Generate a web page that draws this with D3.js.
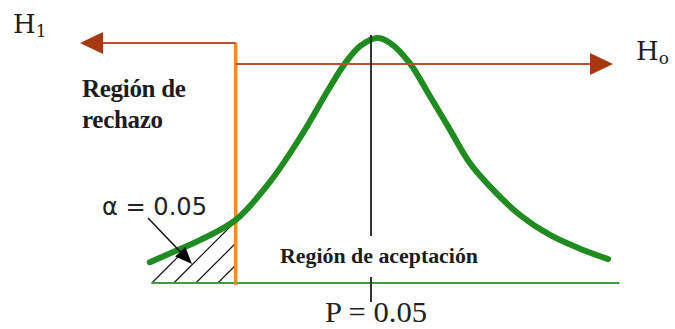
<!DOCTYPE html>
<html>
<head>
<meta charset="utf-8">
<script src="https://cdn.jsdelivr.net/npm/d3@7/dist/d3.min.js"></script>
<style>
body { margin: 0; background: #fff; }
</style>
</head>
<body>
<div id="chart"></div>
<script>
var w = 675;
var h = 329;

// bell curve (z position, height)
var curveZ = [-2.91, -2.58, -2.25, -1.78, -1.33, -0.93, -0.54, -0.34, -0.14, 0.08, 0.25, 0.51, 0.78, 1.04, 1.30, 1.57, 1.96, 2.36, 2.75, 3.12];
var curveD = [0.034, 0.052, 0.070, 0.103, 0.165, 0.238, 0.320, 0.359, 0.387, 0.400, 0.392, 0.359, 0.304, 0.250, 0.196, 0.157, 0.111, 0.078, 0.056, 0.039];
var critZ = -1.78;   // edge of the rejection region
var meanZ = 0;
var baseRange = [-2.89, 3.27];   // green base line

var labels = {
    h1: ["H", "1"],
    h0: ["H", "o"],
    reject: ["Región de", "rechazo"],
    accept: "Región de aceptación",
    alpha: "α = 0.05",
    p: "P = 0.05"
};

var xScale = d3.scaleLinear().domain([-3, 3]).range([143, 599]);
var yScale = d3.scaleLinear().domain([0, 0.4]).range([283, 38]);

var pts = curveZ.map(function(z, i) { return [z, curveD[i]]; });

var svg = d3.select("#chart")
    .append("svg")
    .attr("width", w)
    .attr("height", h);

var xc = xScale(critZ);
var xm = xScale(meanZ);
var y0 = yScale(0);

// hatched tail under the curve
var tail = pts.filter(function(d) { return d[0] <= critZ + 0.001; });
var area = d3.area()
    .x(function(d) { return xScale(d[0]); })
    .y0(y0)
    .y1(function(d) { return yScale(d[1]); })
    .curve(d3.curveCatmullRom);

svg.append("clipPath")
    .attr("id", "tailclip")
    .append("path")
    .attr("d", area(tail));

var hatch = svg.append("g").attr("clip-path", "url(#tailclip)");
d3.range(xScale(curveZ[0]) + 2, xc + 30, 22).forEach(function(bx) {
    hatch.append("line")
        .attr("x1", bx).attr("y1", y0)
        .attr("x2", bx + 70).attr("y2", y0 - 70)
        .attr("stroke", "#111")
        .attr("stroke-width", 1.2);
});

// base line
svg.append("line")
    .attr("x1", xScale(baseRange[0])).attr("x2", xScale(baseRange[1]))
    .attr("y1", y0).attr("y2", y0)
    .attr("stroke", "#3f9e3f")
    .attr("stroke-width", 2);

// orange critical line
svg.append("line")
    .attr("x1", xc).attr("x2", xc)
    .attr("y1", 43).attr("y2", y0 + 2)
    .attr("stroke", "#f58a2a")
    .attr("stroke-width", 3.5);

// the curve
var line = d3.line()
    .x(function(d) { return xScale(d[0]); })
    .y(function(d) { return yScale(d[1]); })
    .curve(d3.curveCatmullRom);

svg.append("path")
    .attr("d", line(pts))
    .attr("fill", "none")
    .attr("stroke", "#1f8c1f")
    .attr("stroke-width", 6)
    .attr("stroke-linecap", "round")
    .attr("stroke-linejoin", "round");

// H1 / Ho arrows
var brown = "#b9542e";
var headCol = "#a7380f";
svg.append("line")
    .attr("x1", xc).attr("x2", 100)
    .attr("y1", 43).attr("y2", 43)
    .attr("stroke", brown).attr("stroke-width", 2);
svg.append("polygon")
    .attr("points", [[80, 43], [103, 32], [103, 54]].join(" "))
    .attr("fill", headCol);

svg.append("line")
    .attr("x1", xc).attr("x2", 592)
    .attr("y1", 64).attr("y2", 64)
    .attr("stroke", brown).attr("stroke-width", 2);
svg.append("polygon")
    .attr("points", [[613, 64], [590, 53], [590, 75]].join(" "))
    .attr("fill", headCol);

// mean line
svg.append("line")
    .attr("x1", xm).attr("x2", xm)
    .attr("y1", yScale(0.4) - 3).attr("y2", y0 + 19)
    .attr("stroke", "#333")
    .attr("stroke-width", 2);

// alpha pointer
var ax1 = 148, ay1 = 218, ax2 = 192, ay2 = 264;
var len = Math.sqrt((ax2 - ax1) * (ax2 - ax1) + (ay2 - ay1) * (ay2 - ay1));
var ux = (ax2 - ax1) / len, uy = (ay2 - ay1) / len;
var bx = ax2 - ux * 17, by = ay2 - uy * 17;
svg.append("line")
    .attr("x1", ax1).attr("y1", ay1)
    .attr("x2", bx).attr("y2", by)
    .attr("stroke", "#111").attr("stroke-width", 1.5);
svg.append("polygon")
    .attr("points", [[ax2, ay2], [bx - uy * 7, by + ux * 7], [bx + uy * 7, by - ux * 7]].join(" "))
    .attr("fill", "#000");

// texts
var ink = "#1c1c1c";
var t1 = svg.append("text")
    .attr("x", 13).attr("y", 33)
    .attr("font-family", "DejaVu Serif")
    .attr("font-size", 26)
    .attr("fill", ink);
t1.append("tspan").text(labels.h1[0]);
t1.append("tspan").attr("dy", 4).attr("font-size", 17).text(labels.h1[1]);

var t0 = svg.append("text")
    .attr("x", 636).attr("y", 60)
    .attr("font-family", "DejaVu Serif")
    .attr("font-size", 26)
    .attr("fill", ink);
t0.append("tspan").text(labels.h0[0]);
t0.append("tspan").attr("dy", 4).attr("font-size", 17).text(labels.h0[1]);

svg.selectAll(".rej")
    .data(labels.reject)
    .enter()
    .append("text")
    .attr("class", "rej")
    .attr("x", 82)
    .attr("y", function(d, i) { return 97 + i * 31; })
    .attr("font-family", "Liberation Serif")
    .attr("font-weight", "bold")
    .attr("font-size", 25)
    .attr("letter-spacing", -0.3)
    .attr("fill", ink)
    .text(function(d) { return d; });

// label box hides the mean line behind the text
svg.append("rect")
    .attr("x", 278).attr("y", 236)
    .attr("width", 202).attr("height", 41)
    .attr("fill", "#fff");

svg.append("text")
    .attr("x", 280).attr("y", 263)
    .attr("font-family", "Liberation Serif")
    .attr("font-weight", "bold")
    .attr("font-size", 20)
    .attr("textLength", 198)
    .attr("lengthAdjust", "spacingAndGlyphs")
    .attr("fill", ink)
    .text(labels.accept);

svg.append("text")
    .attr("x", 102).attr("y", 215)
    .attr("font-family", "DejaVu Sans")
    .attr("font-size", 24)
    .attr("textLength", 105)
    .attr("lengthAdjust", "spacingAndGlyphs")
    .attr("fill", "#222")
    .text(labels.alpha);

svg.append("text")
    .attr("x", 325).attr("y", 322)
    .attr("font-family", "Liberation Serif")
    .attr("font-size", 29)
    .attr("textLength", 102)
    .attr("lengthAdjust", "spacingAndGlyphs")
    .attr("fill", "#222")
    .text(labels.p);
</script>
</body>
</html>
